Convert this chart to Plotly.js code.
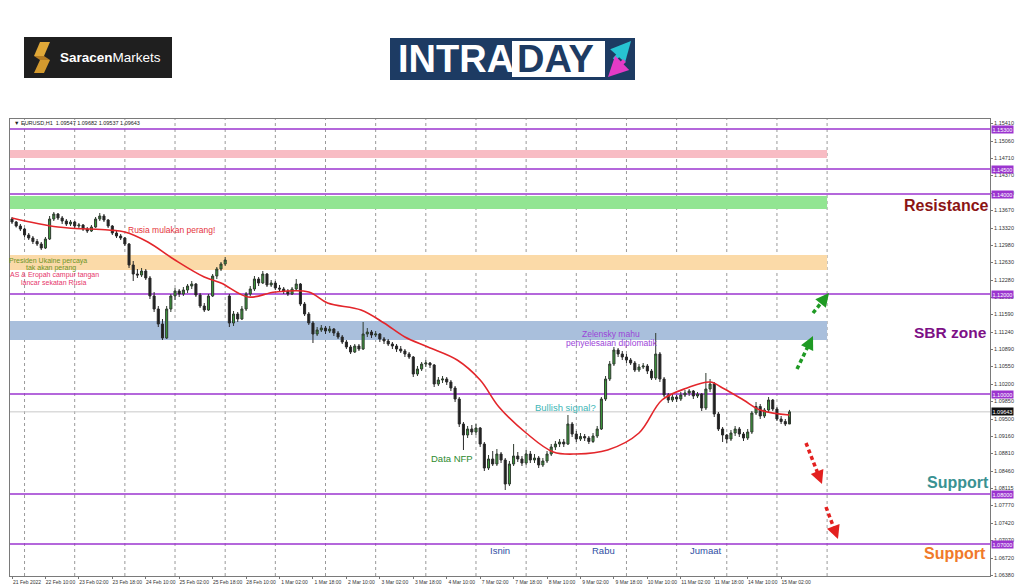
<!DOCTYPE html>
<html><head><meta charset="utf-8">
<script src="https://cdn.plot.ly/plotly-3.0.1.min.js"></script>
<style>html,body{margin:0;padding:0;background:#fff}#chart{width:1024px;height:587px}</style>
</head><body><div id="chart"></div>
<script>
// ---- DATA (EURUSD, 2-hour candles) ----
const barOpen=[1.1350,1.1344,1.1336,1.1330,1.1318,1.1312,1.1305,1.1300,1.1292,1.1310,
1.1350,1.1360,1.1352,1.1346,1.1340,1.1344,1.1336,1.1338,1.1330,1.1326,
1.1334,1.1350,1.1356,1.1348,1.1336,1.1322,1.1316,1.1312,1.1300,1.1258,
1.1240,1.1238,1.1246,1.1232,1.1196,1.1170,1.1140,1.1112,1.1170,1.1196,
1.1206,1.1200,1.1208,1.1216,1.1220,1.1198,1.1176,1.1168,1.1196,1.1236,
1.1250,1.1260,1.1196,1.1142,1.1160,1.1150,1.1170,1.1200,1.1210,1.1230,
1.1222,1.1240,1.1218,1.1222,1.1212,1.1210,1.1206,1.1200,1.1210,1.1220,
1.1180,1.1160,1.1142,1.1120,1.1128,1.1132,1.1126,1.1130,1.1122,1.1114,
1.1104,1.1094,1.1084,1.1096,1.1090,1.1120,1.1124,1.1118,1.1120,1.1110,
1.1106,1.1100,1.1096,1.1090,1.1086,1.1080,1.1074,1.1040,1.1050,1.1060,
1.1062,1.1058,1.1020,1.1028,1.1030,1.1024,1.1012,1.0990,1.0940,1.0918,
1.0930,1.0924,1.0932,1.0900,1.0852,1.0870,1.0860,1.0880,1.0868,1.0820,
1.0860,1.0876,1.0870,1.0862,1.0880,1.0868,1.0872,1.0858,1.0866,1.0880,
1.0894,1.0900,1.0904,1.0900,1.0940,1.0920,1.0910,1.0915,1.0912,1.0905,
1.0916,1.0930,1.0990,1.1030,1.1060,1.1088,1.1080,1.1074,1.1068,1.1062,
1.1048,1.1054,1.1056,1.1046,1.1032,1.1080,1.1030,1.0998,1.0988,1.0994,
1.0990,1.0998,1.1002,1.1006,1.0996,1.1000,1.0972,1.1010,1.1020,1.0960,
1.0930,1.0918,1.0910,1.0922,1.0930,1.0920,1.0912,1.0924,1.0962,1.0975,
1.0956,1.0968,1.0988,1.0970,1.0950,1.0945,1.0940];
const barHigh=[1.1354,1.1346,1.1340,1.1332,1.1322,1.1316,1.1310,1.1304,1.1314,1.1356,
1.1364,1.1362,1.1356,1.1350,1.1348,1.1346,1.1342,1.1340,1.1334,1.1338,
1.1354,1.1362,1.1360,1.1350,1.1338,1.1326,1.1320,1.1314,1.1302,1.1266,
1.1250,1.1252,1.1250,1.1236,1.1204,1.1176,1.1150,1.1176,1.1200,1.1212,
1.1210,1.1214,1.1220,1.1226,1.1222,1.1202,1.1182,1.1200,1.1240,1.1254,
1.1264,1.1274,1.1200,1.1166,1.1164,1.1176,1.1204,1.1216,1.1236,1.1234,
1.1246,1.1242,1.1228,1.1226,1.1218,1.1214,1.1210,1.1214,1.1230,1.1222,
1.1184,1.1164,1.1146,1.1134,1.1138,1.1136,1.1136,1.1132,1.1126,1.1118,
1.1108,1.1098,1.1100,1.1100,1.1144,1.1132,1.1128,1.1126,1.1122,1.1114,
1.1110,1.1104,1.1100,1.1096,1.1090,1.1084,1.1076,1.1056,1.1064,1.1068,
1.1064,1.1060,1.1034,1.1036,1.1034,1.1028,1.1016,1.0994,1.0944,1.0936,
1.0938,1.0940,1.0934,1.0904,1.0878,1.0886,1.0890,1.0884,1.0872,1.0866,
1.0900,1.0884,1.0876,1.0888,1.0886,1.0880,1.0876,1.0872,1.0886,1.0900,
1.0906,1.0910,1.0910,1.0958,1.0944,1.0926,1.0922,1.0920,1.0916,1.0922,
1.0936,1.0994,1.1036,1.1066,1.1094,1.1092,1.1086,1.1080,1.1072,1.1066,
1.1060,1.1062,1.1060,1.1050,1.1122,1.1084,1.1034,1.1002,1.1000,1.0998,
1.1004,1.1008,1.1010,1.1008,1.1004,1.1002,1.1042,1.1030,1.1024,1.0964,
1.0934,1.0920,1.0928,1.0936,1.0934,1.0924,1.0930,1.0966,1.0984,1.0980,
1.0972,1.0994,1.0990,1.0974,1.0956,1.0950,1.09682];
const barLow=[1.1340,1.1333,1.1326,1.1314,1.1308,1.1300,1.1296,1.1288,1.1290,1.1308,
1.1346,1.1348,1.1340,1.1336,1.1336,1.1332,1.1330,1.1326,1.1322,1.1324,
1.1332,1.1346,1.1344,1.1332,1.1318,1.1312,1.1308,1.1296,1.1252,1.1226,
1.1232,1.1234,1.1228,1.1190,1.1164,1.1134,1.1108,1.1110,1.1164,1.1188,
1.1194,1.1196,1.1202,1.1210,1.1194,1.1172,1.1164,1.1166,1.1194,1.1230,
1.1246,1.1256,1.1134,1.1136,1.1144,1.1148,1.1166,1.1196,1.1206,1.1216,
1.1220,1.1214,1.1214,1.1208,1.1206,1.1200,1.1196,1.1198,1.1206,1.1176,
1.1156,1.1138,1.1102,1.1116,1.1124,1.1120,1.1122,1.1116,1.1110,1.1100,
1.1090,1.1080,1.1082,1.1086,1.1088,1.1114,1.1112,1.1114,1.1104,1.1100,
1.1096,1.1090,1.1084,1.1082,1.1074,1.1070,1.1034,1.1036,1.1046,1.1054,
1.1052,1.1014,1.1016,1.1022,1.1018,1.1006,1.0984,1.0934,1.0888,1.0912,
1.0918,1.0918,1.0894,1.0846,1.0848,1.0856,1.0856,1.0862,1.0808,1.0816,
1.0856,1.0864,1.0856,1.0858,1.0862,1.0862,1.0852,1.0854,1.0862,1.0876,
1.0888,1.0894,1.0894,1.0898,1.0914,1.0904,1.0906,1.0906,1.0900,1.0902,
1.0912,1.0928,1.0986,1.1026,1.1056,1.1074,1.1068,1.1062,1.1058,1.1044,
1.1044,1.1050,1.1040,1.1028,1.1028,1.1024,1.0994,1.0982,1.0984,1.0984,
1.0986,1.0994,1.0996,1.0990,1.0992,1.0966,1.0968,1.1004,1.0954,1.0926,
1.0904,1.0902,1.0906,1.0916,1.0914,1.0906,1.0908,1.0920,1.0958,1.0950,
1.0952,1.0964,1.0966,1.0946,1.0940,1.0936,1.09537];
const barClose=[1.1344,1.1336,1.1330,1.1318,1.1312,1.1305,1.1300,1.1292,1.1310,1.1350,
1.1360,1.1352,1.1346,1.1340,1.1344,1.1336,1.1338,1.1330,1.1326,1.1334,
1.1350,1.1356,1.1348,1.1336,1.1322,1.1316,1.1312,1.1300,1.1258,1.1240,
1.1238,1.1246,1.1232,1.1196,1.1170,1.1140,1.1112,1.1170,1.1196,1.1206,
1.1200,1.1208,1.1216,1.1220,1.1198,1.1176,1.1168,1.1196,1.1236,1.1250,
1.1260,1.1268,1.1142,1.1160,1.1150,1.1170,1.1200,1.1210,1.1230,1.1222,
1.1240,1.1218,1.1222,1.1212,1.1210,1.1206,1.1200,1.1210,1.1220,1.1180,
1.1160,1.1142,1.1120,1.1128,1.1132,1.1126,1.1130,1.1122,1.1114,1.1104,
1.1094,1.1084,1.1096,1.1090,1.1120,1.1124,1.1118,1.1120,1.1110,1.1106,
1.1100,1.1096,1.1090,1.1086,1.1080,1.1074,1.1040,1.1050,1.1060,1.1062,
1.1058,1.1020,1.1028,1.1030,1.1024,1.1012,1.0990,1.0940,1.0918,1.0930,
1.0924,1.0932,1.0900,1.0852,1.0870,1.0860,1.0880,1.0868,1.0820,1.0860,
1.0876,1.0870,1.0862,1.0880,1.0868,1.0872,1.0858,1.0866,1.0880,1.0894,
1.0900,1.0904,1.0900,1.0940,1.0920,1.0910,1.0915,1.0912,1.0905,1.0916,
1.0930,1.0990,1.1030,1.1060,1.1088,1.1080,1.1074,1.1068,1.1062,1.1048,
1.1054,1.1056,1.1046,1.1032,1.1080,1.1030,1.0998,1.0988,1.0994,1.0990,
1.0998,1.1002,1.1006,1.0996,1.1000,1.0972,1.1010,1.1020,1.0960,1.0930,
1.0918,1.0910,1.0922,1.0930,1.0920,1.0912,1.0924,1.0962,1.0975,1.0956,
1.0968,1.0988,1.0970,1.0950,1.0945,1.0940,1.09643];

// moving average (red line), hour index -> price
const maHours=[0,22,46,54,65,78,92,100,113,126,142,151,167,178,188,199,213,224,233,246,259,270,285,300,311,323,334,340,350,358,372];
const maValues=[1.1352,1.1334,1.1328,1.1324,1.1304,1.1268,1.1234,1.1222,1.1194,1.1204,1.1204,1.1182,1.1168,1.1142,1.1114,1.1094,1.1068,1.1028,1.0974,1.0922,1.0884,1.0880,1.0888,1.0922,1.0988,1.1012,1.1024,1.1012,1.0988,1.0968,1.0958];

const timeLabels=["21 Feb 2022","22 Feb 10:00","23 Feb 02:00","23 Feb 18:00","24 Feb 10:00","25 Feb 02:00","25 Feb 18:00","28 Feb 10:00","1 Mar 02:00","1 Mar 18:00","2 Mar 10:00","3 Mar 02:00","3 Mar 18:00","4 Mar 10:00","7 Mar 02:00","7 Mar 18:00","8 Mar 10:00","9 Mar 02:00","9 Mar 18:00","10 Mar 10:00","11 Mar 02:00","11 Mar 18:00","14 Mar 10:00","15 Mar 02:00"];
const priceTicks=[1.06380,1.06720,1.07070,1.07420,1.07770,1.08115,1.08460,1.08810,1.09160,1.09500,1.09850,1.10200,1.10550,1.10890,1.11240,1.11590,1.11930,1.12280,1.12630,1.12980,1.13320,1.13670,1.14020,1.14370,1.14710,1.15060,1.15410];
const priceTickText=["1.06380","1.06720","1.07070","1.07420","1.07770","1.08115","1.08460","1.08810","1.09160","1.09500","1.09850","1.10200","1.10550","1.10890","1.11240","1.11590","1.11930","1.12280","1.12630","1.12980","1.13320","1.13670","1.14020","1.14370","1.14710","1.15060","1.15410"];

const levelPrices=[1.15300,1.14500,1.14000,1.12000,1.10000,1.08000,1.07000];
const levelLabels=["1.15300","1.14500","1.14000","1.12000","1.10000","1.08000","1.07000"];
const lastPrice=1.09643;
const zoneLow=[1.1472,1.1370,1.1248,1.1108];
const zoneHigh=[1.1488,1.1396,1.1278,1.1146];
const zoneColors=['#f8bcc4','#92e592','#fbdaa8','#a9bfdc'];

// ---- LAYOUT HELPERS ----
const W=1024,H=587,L=10,R=34,T=119,B=11;
const pw=W-L-R, ph=H-T-B;
const X=px=>(px-L)/pw, Y=py=>(H-B-py)/ph;
const pxPerHour=2.09;
const xMin=-2/pxPerHour, xMax=xMin+pw/pxPerHour;

const barX=barClose.map((_,i)=>i*2);
const tickHours=timeLabels.map((_,i)=>i*16);

const traces=[
 {type:'candlestick',x:barX,open:barOpen,high:barHigh,low:barLow,close:barClose,
  increasing:{line:{color:'#2f3a2f',width:1},fillcolor:'#3c9e3c'},
  decreasing:{line:{color:'#2a2a2a',width:1},fillcolor:'#1e1e1e'},
  whiskerwidth:0,hoverinfo:'skip',showlegend:false},
 {type:'scatter',mode:'lines',x:maHours,y:maValues,line:{color:'#e3262b',width:1.6,shape:'spline',smoothing:1},hoverinfo:'skip',showlegend:false}
];

const shapes=[];
// dashed vertical grid
for(let h=6;h<=390;h+=24){
  shapes.push({type:'line',xref:'x',yref:'paper',x0:h,x1:h,y0:0,y1:1,layer:'below',line:{color:'#9a9a9a',width:1,dash:'dot'}});
}
zoneLow.forEach((lo,i)=>shapes.push({type:'rect',xref:'x',yref:'y',x0:xMin,x1:390,y0:lo,y1:zoneHigh[i],fillcolor:zoneColors[i],line:{width:0},layer:'below'}));
levelPrices.forEach(p=>shapes.push({type:'line',xref:'paper',yref:'y',x0:0,x1:1,y0:p,y1:p,layer:'below',line:{color:'#9b35cf',width:1.6}}));
shapes.push({type:'line',xref:'paper',yref:'y',x0:0,x1:1,y0:lastPrice,y1:lastPrice,layer:'below',line:{color:'#c9c9c9',width:1}});

// logos
shapes.push({type:'rect',xref:'paper',yref:'paper',x0:X(24),x1:X(172),y0:Y(78),y1:Y(37),fillcolor:'#1f1f1f',line:{width:0}});
function poly(pts){return 'M'+pts.map(p=>X(p[0])+','+Y(p[1])).join(' L')+' Z';}
shapes.push({type:'path',xref:'paper',yref:'paper',path:poly([[40,42],[50,42],[44,56],[34,56]]),fillcolor:'#e0a838',line:{width:0}});
shapes.push({type:'path',xref:'paper',yref:'paper',path:poly([[34,56],[44,56],[50,60],[40,60]]),fillcolor:'#b57c22',line:{width:0}});
shapes.push({type:'path',xref:'paper',yref:'paper',path:poly([[40,60],[50,60],[44,73],[34,73]]),fillcolor:'#d39a2e',line:{width:0}});
shapes.push({type:'rect',xref:'paper',yref:'paper',x0:X(390),x1:X(635),y0:Y(80),y1:Y(38),fillcolor:'#1d3b63',line:{width:0}});
shapes.push({type:'rect',xref:'paper',yref:'paper',x0:X(512),x1:X(605),y0:Y(77),y1:Y(41),fillcolor:'#ffffff',line:{width:0}});

// dashed scenario arrows
const arrowDefs=[
 {t:[797,369],h:[813,336],c:'#1f9a24'},
 {t:[813,313],h:[829,293],c:'#1f9a24'},
 {t:[806,443],h:[822,484],c:'#e3201f'},
 {t:[826,507],h:[838,539],c:'#e3201f'}
];
const annotations=[];
arrowDefs.forEach(a=>{
  const dx=a.h[0]-a.t[0], dy=a.h[1]-a.t[1], len=Math.hypot(dx,dy);
  const ex=a.h[0]-dx/len*6, ey=a.h[1]-dy/len*6;
  shapes.push({type:'line',xref:'paper',yref:'paper',x0:X(a.t[0]),y0:Y(a.t[1]),x1:X(ex),y1:Y(ey),line:{color:a.c,width:3.5,dash:'4px,3px'}});
  annotations.push({xref:'paper',yref:'paper',x:X(a.h[0]),y:Y(a.h[1]),ax:-dx/len*9,ay:-dy/len*9,text:'',showarrow:true,arrowhead:2,arrowsize:0.9,arrowwidth:3,arrowcolor:a.c});
});

const FB='Liberation Sans, Arial, sans-serif';
function txt(s,px,py,size,color,opts){
  return Object.assign({xref:'paper',yref:'paper',x:X(px),y:Y(py),text:s,showarrow:false,xanchor:'left',yanchor:'middle',
    font:{family:FB,size:size,color:color}},opts||{});
}
annotations.push(
 txt('▼ EURUSD,H1  1.09547 1.09682 1.09537 1.09643',12,123,5.5,'#222'),
 txt('Rusia mulakan perang!',126,230,8.5,'#e5343c'),
 txt('Presiden Ukaine percaya',48,261,7,'#6f9326',{xanchor:'center'}),
 txt('tak akan perang',51,268,7,'#6f9326',{xanchor:'center'}),
 txt('AS & Eropah campur tangan',54,275,7,'#e6356a',{xanchor:'center'}),
 txt('lancar sekatan Rusia',53,282,7,'#e6356a',{xanchor:'center'}),
 txt('Zelensky mahu',611,334,8.5,'#9b45d8',{xanchor:'center'}),
 txt('penyelesaian diplomatik',611,343,8.5,'#9b45d8',{xanchor:'center'}),
 txt('Bullish signal?',565,407,9.5,'#3eb6b6',{xanchor:'center'}),
 txt('Data NFP',452,458,9.5,'#2e8b2e',{xanchor:'center'}),
 txt('Isnin',500,550,9.5,'#2f4ea3',{xanchor:'center'}),
 txt('Rabu',603,550,9.5,'#2f4ea3',{xanchor:'center'}),
 txt('Jumaat',706,550,9.5,'#2f4ea3',{xanchor:'center'}),
 txt('<b>Resistance</b>',946,205,16,'#8b1414',{xanchor:'center'}),
 txt('<b>SBR zone</b>',950,332,15.5,'#7d0f86',{xanchor:'center'}),
 txt('<b>Support</b>',958,482,16,'#3a9292',{xanchor:'center'}),
 txt('<b>Support</b>',955,553,16,'#f07a2a',{xanchor:'center'}),
 txt('<b>Saracen</b>Markets',58,57,13.5,'#ffffff'),
 txt('<b>INTRA</b>',396,59,38,'#ffffff'),
 txt('<b>DAY</b>',515,59,38,'#1d3b63')
);
// logo arrows
annotations.push({xref:'paper',yref:'paper',x:X(631),y:Y(41),ax:-18,ay:20,text:'',showarrow:true,arrowhead:2,arrowsize:1,arrowwidth:4,arrowcolor:'#27c3d3'});
annotations.push({xref:'paper',yref:'paper',x:X(608),y:Y(77),ax:18,ay:-18,text:'',showarrow:true,arrowhead:2,arrowsize:1,arrowwidth:4,arrowcolor:'#e43bc6'});
// price labels on axis
levelPrices.forEach((p,i)=>annotations.push({xref:'paper',yref:'y',x:X(991),y:p,xanchor:'left',yanchor:'middle',text:levelLabels[i],showarrow:false,
  bgcolor:'#9b35cf',borderpad:0.5,font:{family:FB,size:5.5,color:'#ffffff'}}));
annotations.push({xref:'paper',yref:'y',x:X(991),y:lastPrice,xanchor:'left',yanchor:'middle',text:'1.09643',showarrow:false,
  bgcolor:'#111111',borderpad:0.5,font:{family:FB,size:5.5,color:'#ffffff'}});

const layout={
 width:W,height:H,margin:{l:L,r:R,t:T,b:B},paper_bgcolor:'#ffffff',plot_bgcolor:'#ffffff',showlegend:false,
 xaxis:{type:'linear',range:[xMin,xMax],tickvals:tickHours,ticktext:timeLabels,tickangle:0,ticks:'outside',ticklen:2,tickcolor:'#777',
   tickfont:{family:FB,size:5,color:'#333'},ticklabelshift:15,ticklabelstandoff:-1,showgrid:false,zeroline:false,showline:true,linecolor:'#7a7a7a',mirror:true,
   rangeslider:{visible:false},fixedrange:true},
 yaxis:{side:'right',range:[1.0636,1.1550],tickvals:priceTicks,ticktext:priceTickText,ticks:'outside',ticklen:2,tickcolor:'#777',
   tickfont:{family:FB,size:5.5,color:'#333'},showgrid:false,zeroline:false,showline:true,linecolor:'#7a7a7a',mirror:true,fixedrange:true},
 shapes:shapes,annotations:annotations
};
Plotly.newPlot('chart',traces,layout,{displayModeBar:false,staticPlot:true});
</script></body></html>
